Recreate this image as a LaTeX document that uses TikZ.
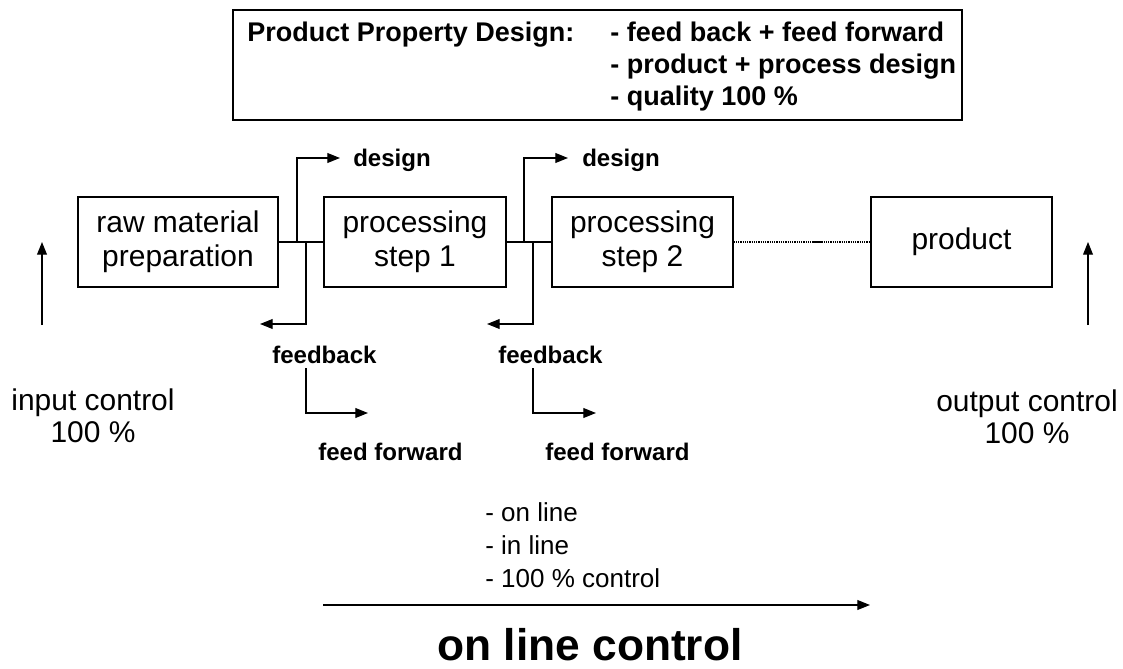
\documentclass[tikz,border=0pt]{standalone}
\usepackage{fontspec}
\setmainfont{Liberation Sans}
\usetikzlibrary{arrows.meta}

\tikzset{
    stage/.style={draw, line width=0.9pt, minimum height=2.25cm, inner sep=0pt, align=center,
        font=\fontsize{21.3}{24.5}\selectfont},
    tag/.style={anchor=west, inner sep=0pt, font=\fontsize{17.1}{20}\selectfont\bfseries},
    goal/.style={anchor=base west, inner sep=0pt, font=\fontsize{19.2}{22}\selectfont\bfseries},
    link/.style={line width=0.8pt},
    flow/.style={line width=0.8pt, -{Triangle[length=9pt,width=7pt]}},
}

\begin{document}
\begin{tikzpicture}[x=0.025cm, y=-0.025cm]
        \useasboundingbox (0,0) rectangle (1123,669);

        % design goals
        \node [draw, line width=0.9pt, minimum width=18.225cm, minimum height=2.75cm] (goals) at (597.5,65) {};
        \node [goal] (goaltitle) at (247,42) {Product Property Design:};
        \node [goal] (goal1) at (610,42) {- feed back + feed forward};
        \node [goal] (goal2) at (610,74) {- product + process design};
        \node [goal] (goal3) at (610,106) {- quality 100 \%};

        % process chain
        \node [stage, minimum width=5cm] (raw) at (178,242) {raw material\\preparation};
        \node [stage, minimum width=4.55cm] (step1) at (415,242) {processing\\step 1};
        \node [stage, minimum width=4.525cm] (step2) at (642.5,242) {processing\\step 2};
        \node [stage, minimum width=4.525cm] (prod) at (961.5,242) {product};

        \draw [link] (raw) -- (step1);
        \draw [link] (step1) -- (step2);
        \draw [link, dash pattern=on 0.8pt off 0.8pt] (step2) -- (prod);
        \coordinate (gapa) at (812,242);
        \coordinate (gapb) at (823,242);
        \draw [link] (gapa) -- (gapb);

        % design / feedback taps
        \coordinate (up1) at (297,242);
        \coordinate (up1end) at (340,158);
        \coordinate (dn1) at (306,242);
        \coordinate (dn1end) at (260,324);
        \draw [flow] (up1) |- (up1end);
        \draw [flow] (dn1) |- (dn1end);
        \node [tag] (design1) at (353,160) {design};
        \node [tag] (fback1) at (272,355) {feedback};

        \coordinate (up2) at (524,242);
        \coordinate (up2end) at (568,158);
        \coordinate (dn2) at (533,242);
        \coordinate (dn2end) at (487,324);
        \draw [flow] (up2) |- (up2end);
        \draw [flow] (dn2) |- (dn2end);
        \node [tag] (design2) at (582,160) {design};
        \node [tag] (fback2) at (498,355) {feedback};

        % feed forward
        \coordinate (ff1) at (306,368);
        \coordinate (ff1end) at (368,413);
        \coordinate (ff2) at (533,368);
        \coordinate (ff2end) at (596,413);
        \draw [flow] (ff1) |- (ff1end);
        \draw [flow] (ff2) |- (ff2end);
        \node [tag] (fforw1) at (318,452) {feed forward};
        \node [tag] (fforw2) at (545,452) {feed forward};

        % input and output control
        \coordinate (inlow) at (42,325);
        \coordinate (inhigh) at (42,242);
        \coordinate (outlow) at (1088,325);
        \coordinate (outhigh) at (1088,242);
        \draw [flow] (inlow) -- (inhigh);
        \draw [flow] (outlow) -- (outhigh);
        \node [align=center, inner sep=0pt, font=\fontsize{21.3}{22.8}\selectfont] (inctrl) at (93,416) {input control\\100 \%};
        \node [align=center, inner sep=0pt, font=\fontsize{21.3}{22.8}\selectfont] (outctrl) at (1027,417) {output control\\100 \%};

        % on line control
        \node [anchor=west, align=left, inner sep=0pt, font=\fontsize{18.5}{23.5}\selectfont] (modes) at (485,545) {- on line\\- in line\\- 100 \% control};
        \coordinate (olstart) at (323,605);
        \coordinate (olend) at (870,605);
        \draw [flow] (olstart) -- (olend);
        \node [inner sep=0pt, font=\fontsize{31.5}{35}\selectfont\bfseries] (online) at (590,645) {on line control};

\end{tikzpicture}
\end{document}
